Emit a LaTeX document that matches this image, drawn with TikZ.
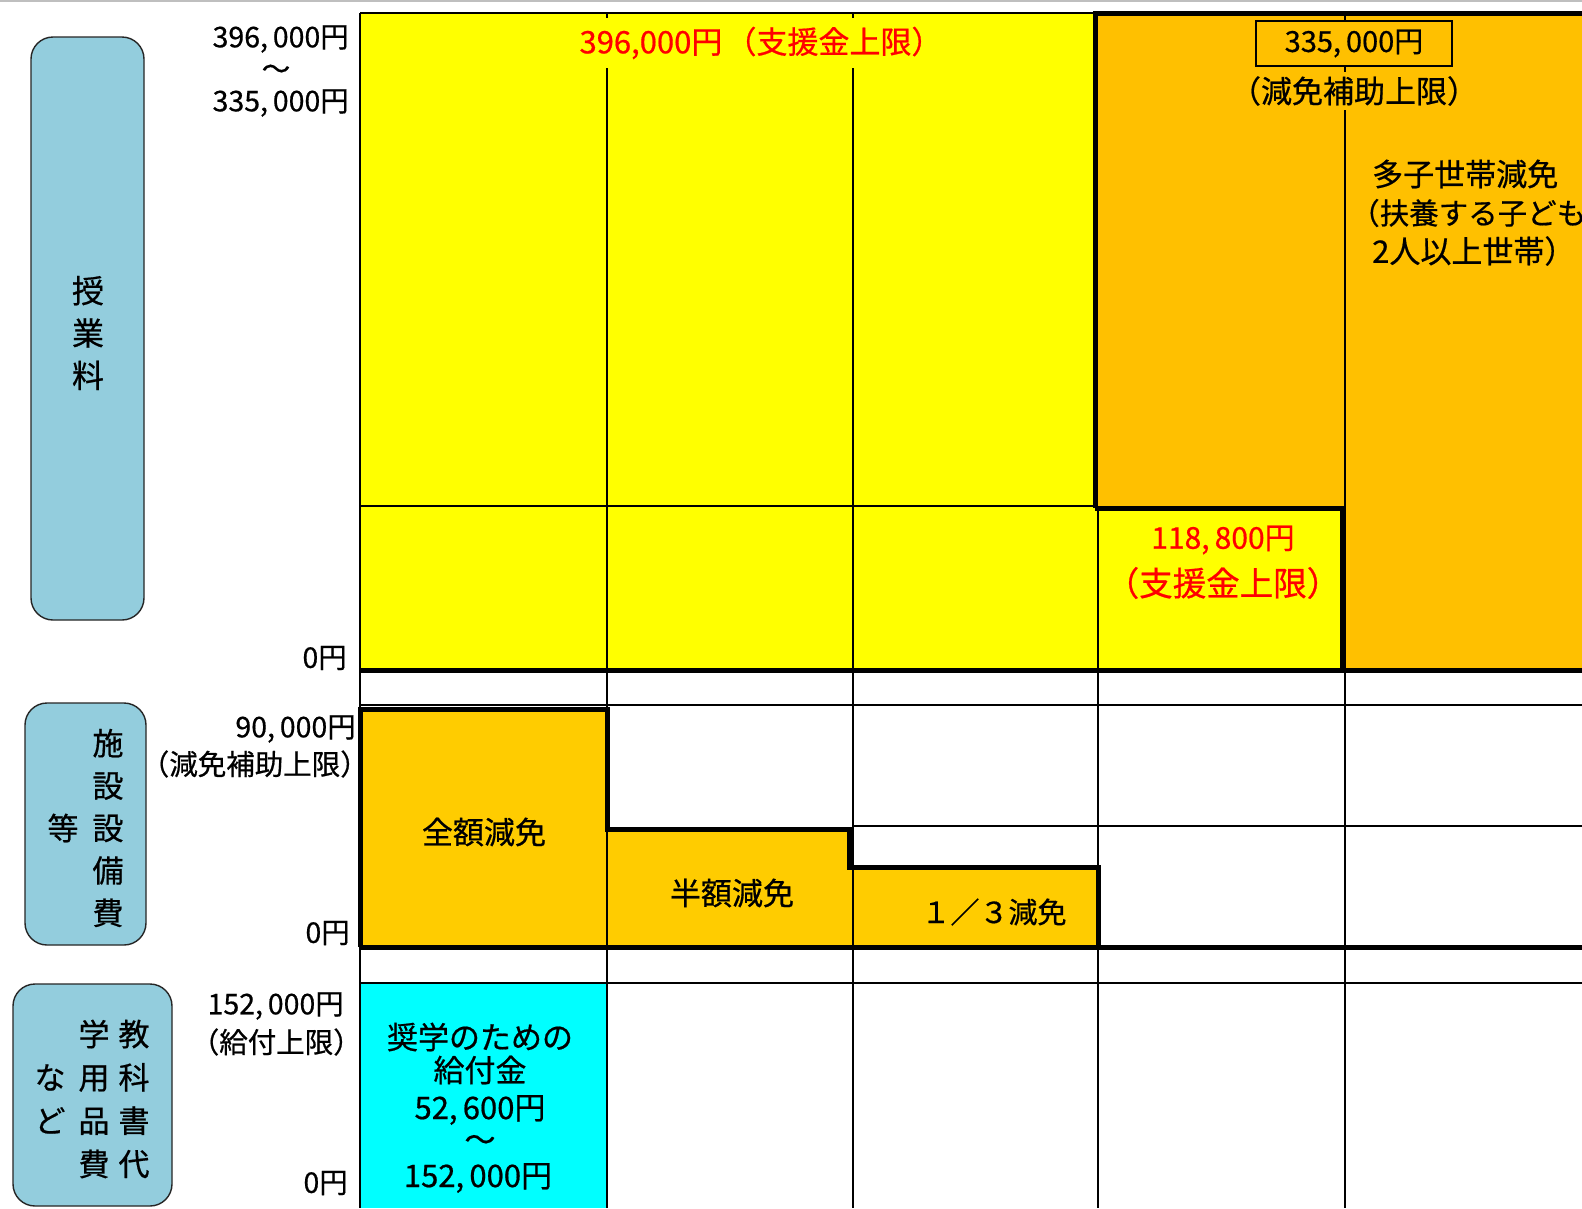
\documentclass[tikz,border=0pt]{standalone}
\usepackage{fontspec}
\setmainfont{Noto Sans CJK JP}[FakeBold=0.6]
\definecolor{yel}{HTML}{FFFF00}
\definecolor{orgA}{HTML}{FFC000}
\definecolor{orgB}{HTML}{FFCC00}
\definecolor{cyn}{HTML}{00FFFF}
\definecolor{catblue}{HTML}{93CDDD}
\definecolor{redtxt}{HTML}{FF0000}
\newcommand\jfs[2]{\fontsize{#1}{#2}\selectfont}
\newcommand\cm{,\hspace{0.17em}}
\begin{document}
\begin{tikzpicture}[x=1pt,y=-1pt,
  gridln/.style={line width=1.8pt, black},
  boldln/.style={line width=5pt, black, line join=miter},
  lbl/.style={inner sep=0pt, font=\jfs{28.5}{32}},
  cattxt/.style={inner sep=0pt, align=center},
  catbox/.style={draw=black!85, line width=1.4pt, fill=catblue, rounded corners=22pt, inner sep=0pt},
  intxt/.style={inner sep=0pt, font=\jfs{31}{36}, align=center}]
\useasboundingbox (0,0) rectangle (1582,1208);
\fill[white] (0,0) rectangle (1582,1208);
\draw[black!25, line width=1.5pt] (0,1) -- (1582,1);

% fills
\fill[yel] (360,13) rectangle (1095,670);
\fill[orgA] (1095,13) rectangle (1582,670);
\fill[yel] (1095,508) rectangle (1342,670);
\fill[orgB] (360,709) -- (607,709) -- (607,829) -- (849,829) -- (849,867) -- (1098,867) -- (1098,947) -- (360,947) -- cycle;
\fill[cyn] (360,983) rectangle (607,1208);

% grid lines
\draw[gridln] (360,13) -- (360,1208);
\draw[gridln] (607,13) -- (607,1208);
\draw[gridln] (853,13) -- (853,1208);
\draw[gridln] (1098,508) -- (1098,1208);
\draw[gridln] (1345,13) -- (1345,1208);
\draw[gridln] (360,13) -- (1095,13);
\draw[gridln] (360,506) -- (1095,506);
\draw[gridln] (360,705) -- (1582,705);
\draw[gridln] (853,826) -- (1582,826);
\draw[gridln] (360,983) -- (1582,983);

% bold outlines
\draw[boldln] (1095,508) -- (1095,13) -- (1582,13);
\draw[boldln] (1095,508) -- (1342,508) -- (1342,670);
\draw[boldln] (360,670) -- (1582,670);
\draw[boldln] (360,947) -- (360,709) -- (607,709) -- (607,829) -- (849,829) -- (849,867) -- (1098,867) -- (1098,947);
\draw[boldln] (360,947) -- (1582,947);

% category boxes
\node[catbox, minimum width=113pt, minimum height=583pt] (cat1) at (87.5,328.5) {};
\node[cattxt, font=\jfs{32}{42.4}] (cat1t) at (88,333) {授\\業\\料};
\node[catbox, minimum width=121pt, minimum height=242pt] (cat2) at (85.5,824) {};
\node[cattxt, font=\jfs{31}{42.4}] (cat2a) at (108,828) {施\\設\\設\\備\\費};
\node[cattxt, font=\jfs{31}{42.4}] (cat2b) at (63,828) {等};
\node[catbox, minimum width=159pt, minimum height=222pt] (cat3) at (92.5,1095) {};
\node[cattxt, font=\jfs{31}{43.3}] (cat3a) at (134,1099) {教\\科\\書\\代};
\node[cattxt, font=\jfs{31}{43.3}] (cat3b) at (94,1099) {学\\用\\品\\費};
\node[cattxt, font=\jfs{31}{43.3}] (cat3c) at (50,1099) {な\\ど};

% axis labels
\node[lbl, anchor=east] (a1) at (349,39) {396\cm000円};
\node[lbl] (a1t) at (276,72) {～};
\node[lbl, anchor=east] (a2) at (349,103) {335\cm000円};
\node[lbl, anchor=east] (a3) at (347,658) {0円};
\node[lbl, anchor=east] (a4) at (356,729) {90\cm000円};
\node[lbl, anchor=east] (a5) at (369,764) {（減免補助上限）};
\node[lbl, anchor=east] (a6) at (350,933) {0円};
\node[lbl, anchor=east] (a7) at (344,1006) {152\cm000円};
\node[lbl, anchor=east] (a8) at (362,1042) {（給付上限）};
\node[lbl, anchor=east] (a9) at (348,1183) {0円};

% texts in areas
\node[intxt, text=redtxt, fill=yel, inner xsep=6pt, minimum height=50pt] (r1) at (761,43) {396,000円\hspace{0.1em}（支援金上限）};
\node[intxt, font=\jfs{29}{34}, draw=black, line width=1.4pt, fill=orgA, minimum width=196pt, minimum height=45pt] (b1) at (1354,43.5) {335\cm000円};
\node[intxt, fill=orgA, inner xsep=2pt, inner ysep=4pt] (b2) at (1354,91) {（減免補助上限）};
\node[intxt, anchor=west] (m1) at (1372,174) {多子世帯減免};
\node[intxt, anchor=west, font=\jfs{29.5}{36}] (m2) at (1350,213) {（扶養する子ども};
\node[intxt, anchor=west] (m3) at (1372,251) {2人以上世帯）};
\node[intxt, text=redtxt, font=\jfs{30}{36}] (r2) at (1223,540) {118\cm800円};
\node[intxt, text=redtxt, font=\jfs{33.5}{36}] (r3) at (1223,583) {（支援金上限）};
\node[intxt] (f1) at (484,832) {全額減免};
\node[intxt] (f2) at (732,893) {半額減免};
\node[intxt, font=\jfs{29}{34}] (f3) at (994,912) {１／３減免};
\node[intxt] (c1) at (480,1037) {奨学のための};
\node[intxt] (c2) at (480,1070) {給付金};
\node[intxt] (c3) at (480,1110) {52\cm600円};
\node[intxt] (c4) at (480,1143) {～};
\node[intxt] (c5) at (478,1178) {152\cm000円};
\end{tikzpicture}
\end{document}
